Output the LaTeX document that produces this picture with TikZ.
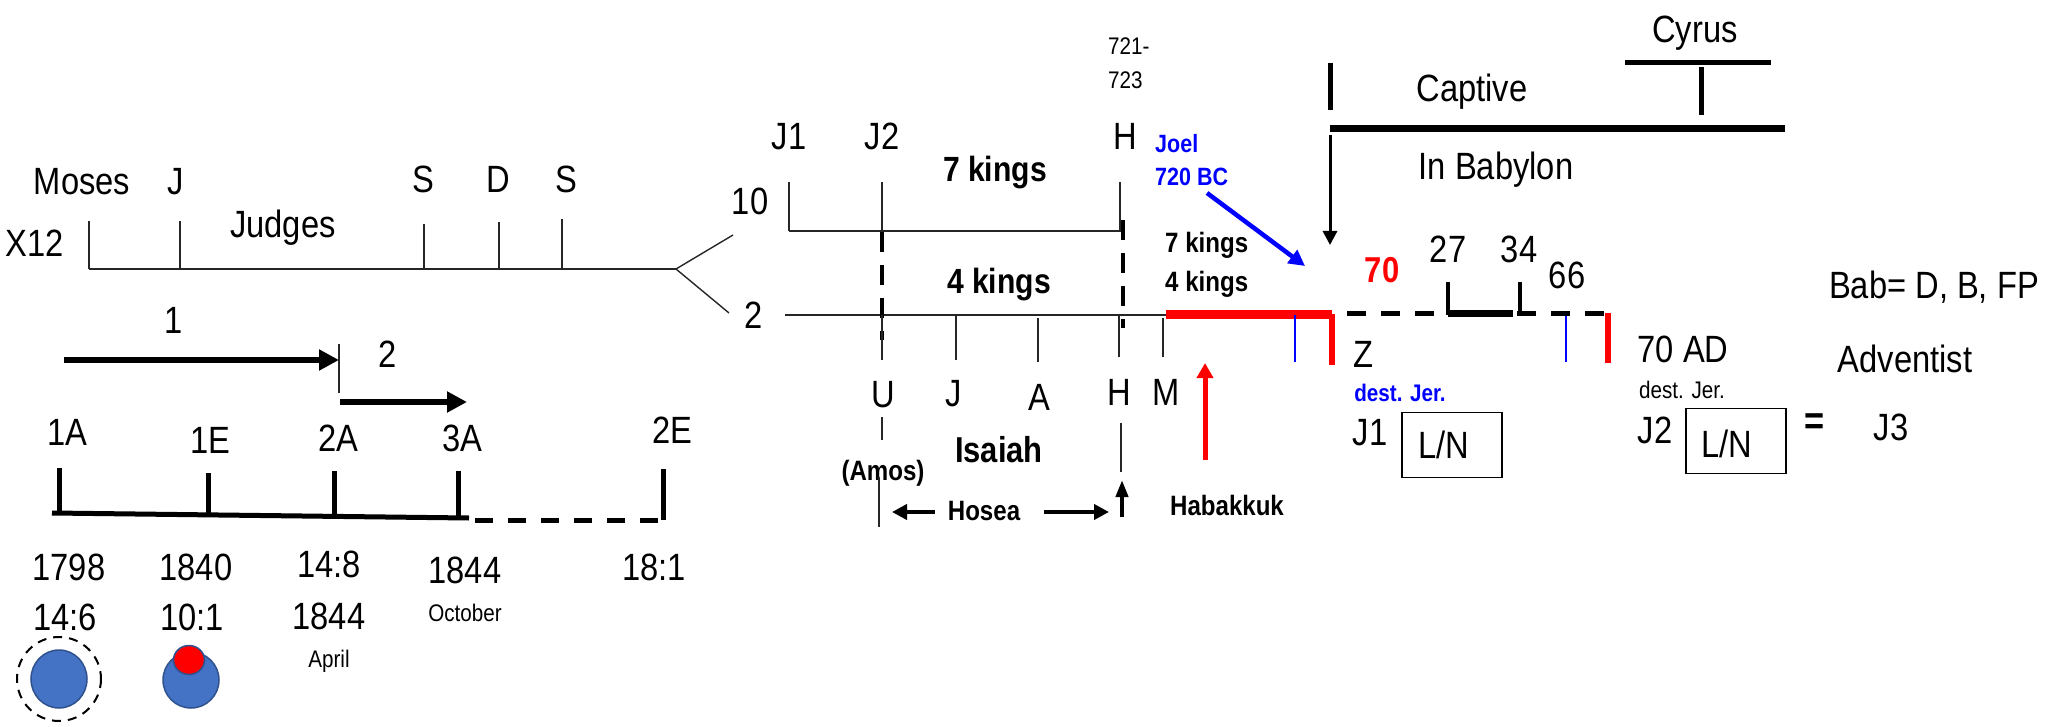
\documentclass[tikz,border=0pt]{standalone}
\usepackage{fontspec}
\setmainfont{Liberation Sans}[FakeStretch=0.86]
\usetikzlibrary{arrows.meta}
\definecolor{discblue}{HTML}{4472C4}
\definecolor{discedge}{HTML}{2F528F}

\begin{document}
\begin{tikzpicture}[x=1pt, y=-1pt]
    \tikzstyle{every node}=[inner sep=0pt, anchor=base, font=\fontsize{38}{40}\selectfont]
    \tikzstyle{smalltxt}=[font=\fontsize{24}{26}\selectfont]
    \tikzstyle{heavytxt}=[font=\bfseries\fontsize{28}{30}\selectfont]
    \tikzstyle{bigheavy}=[font=\bfseries\fontsize{36}{38}\selectfont]
    \tikzstyle{hairline}=[line width=1.4pt, draw=black!85]
    \tikzstyle{barline}=[line width=5pt]
    \tikzstyle{fatarrow}=[line width=6pt, -{Triangle[length=20pt,width=20pt]}]
    \tikzstyle{midarrow}=[line width=4pt, -{Triangle[length=15pt,width=15pt]}]
    \useasboundingbox (0,0) rectangle (2049,727);

% Upper left timeline: Moses, Judges, the kings and the fork
    \node (moses) at (82,195) {Moses};
    \node (judge) at (176,195) {J};
    \node (saul) at (423,193) {S};
    \node (david) at (498,193) {D};
    \node (solomon) at (566,193) {S};
    \node (x12) at (35,257) {X12};
    \node (judges) at (283,237) {Judges};
    \coordinate (start) at (89,269);
    \coordinate (fork) at (676,269);
    \coordinate (tenend) at (733,235);
    \coordinate (twoend) at (729,313);
    \draw[hairline] (start) -- (fork);
    \draw[hairline] (fork) -- (tenend);
    \draw[hairline] (fork) -- (twoend);
    \foreach \x/\t in {89/221, 180/221, 424/224, 499/222, 562/219}
        \draw[hairline] (\x,\t) -- (\x,269);

% The two messages
    \node (one) at (174,333) {1};
    \node (two) at (388,367) {2};
    \coordinate (onestart) at (64,360);
    \coordinate (oneend) at (339,360);
    \coordinate (twostart) at (340,402);
    \coordinate (twoend2) at (467,402);
    \draw[fatarrow] (onestart) -- (oneend);
    \draw[fatarrow] (twostart) -- (twoend2);
    \draw[hairline] (339,344) -- (339,393);

% Lower left timeline: 1798 to 18:1
    \node (a1) at (67,445) {1A};
    \node (e1) at (210,453) {1E};
    \node (a2) at (338,451) {2A};
    \node (a3) at (462,451) {3A};
    \node (e2) at (672,443) {2E};
    \coordinate (tlstart) at (52,513);
    \coordinate (tlmid) at (469,518);
    \coordinate (tlend) at (670,520);
    \draw[barline] (tlstart) -- (tlmid);
    \draw[barline, dash pattern=on 18pt off 15pt] (tlmid) ++(6,2) -- (tlend);
    \foreach \x/\t/\b in {59/468/513, 208/473/515, 334/471/516, 458/471/520, 663/469/520}
        \draw[barline] (\x,\t) -- (\x,\b);
    \node (y1798) at (69,580) {1798};
    \node (v146) at (65,630) {14:6};
    \node (y1840) at (196,580) {1840};
    \node (v101) at (192,630) {10:1};
    \node (v148) at (329,577) {14:8};
    \node (y1844a) at (329,629) {1844};
    \node[smalltxt] (april) at (329,667) {April};
    \node (y1844o) at (465,583) {1844};
    \node[smalltxt] (october) at (465,621) {October};
    \node (v181) at (654,580) {18:1};
    \draw[line width=2pt, dash pattern=on 9pt off 7pt] (59,679) circle [radius=42];
    \filldraw[fill=discblue, draw=discedge, line width=1.5pt] (59,679) ellipse [x radius=28, y radius=29];
    \filldraw[fill=discblue, draw=discedge, line width=1.5pt] (191,680) ellipse [x radius=28, y radius=28];
    \filldraw[fill=red, draw=discedge, line width=1.5pt] (189,660) ellipse [x radius=15.5, y radius=14.5];

% Divided kingdom: ten tribes above, two tribes below
    \node[smalltxt, anchor=base west] (yr721) at (1108,55) {721-};
    \node[smalltxt, anchor=base west] (yr723) at (1108,89) {723};
    \node (jone) at (789,150) {J1};
    \node (jtwo) at (882,150) {J2};
    \node (hup) at (1125,150) {H};
    \node[font=\bfseries\fontsize{35}{37}\selectfont] (sevenk) at (995,182) {7 kings};
    \node[font=\bfseries\fontsize{35}{37}\selectfont] (fourk) at (999,293) {4 kings};
    \node (ten) at (750,215) {10};
    \node (twotribes) at (754,328) {2};
    \coordinate (upstart) at (789,231);
    \coordinate (upend) at (1121,231);
    \coordinate (lowstart) at (785,315);
    \coordinate (lowend) at (1166,315);
    \draw[hairline] (upstart) -- (upend);
    \draw[hairline] (lowstart) -- (lowend);
    \foreach \x in {789, 882, 1120}
        \draw[hairline] (\x,182) -- (\x,231);
    \draw[line width=4pt, dash pattern=on 20pt off 13pt] (882,232) -- (882,340);
    \draw[line width=4pt, dash pattern=on 20pt off 13pt] (1123,220) -- (1123,328);
    \foreach \x/\t/\b in {882/315/360, 956/315/360, 1038/318/362, 1119/315/357, 1163/318/357}
        \draw[hairline] (\x,\t) -- (\x,\b);

% Prophets of the southern kingdom
    \node (uzziah) at (883,407) {U};
    \node (jotham) at (954,406) {J};
    \node (ahaz) at (1039,410) {A};
    \node (hezekiah) at (1119,405) {H};
    \node (manasseh) at (1166,405) {M};
    \draw[hairline] (882,417) -- (882,440);
    \node[heavytxt] (amos) at (883,480) {(Amos)};
    \draw[hairline] (879,477) -- (879,527);
    \node[bigheavy] (isaiah) at (999,462) {Isaiah};
    \draw[hairline] (1121,423) -- (1121,472);
    \node[heavytxt] (hosea) at (984,520) {Hosea};
    \coordinate (hoseaup) at (1122,517);
    \coordinate (hoseaL) at (935,512);
    \coordinate (hoseaLtip) at (892,512);
    \coordinate (hoseaR) at (1044,512);
    \coordinate (hoseaRtip) at (1109,512);
    \draw[midarrow, -{Triangle[length=17pt,width=12pt]}] (hoseaup) -- ++(0,-37);
    \draw[midarrow] (hoseaL) -- (hoseaLtip);
    \draw[midarrow] (hoseaR) -- (hoseaRtip);
    \node[heavytxt] (habakkuk) at (1227,515) {Habakkuk};
    \draw[line width=5pt, red, -{Triangle[length=15pt,width=16pt]}] (1205,460) -- (1205,363);

% Joel and the captivity in Babylon
    \node[font=\bfseries\fontsize{25}{27}\selectfont, text=blue, anchor=base west] (joel) at (1155,153) {Joel};
    \node[font=\bfseries\fontsize{25}{27}\selectfont, text=blue, anchor=base west] (bc720) at (1155,186) {720 BC};
    \node[heavytxt, anchor=base west] (sevenk2) at (1165,253) {7 kings};
    \node[heavytxt, anchor=base west] (fourk2) at (1165,291) {4 kings};
    \coordinate (joeltip) at (1305,266);
    \draw[line width=4.5pt, blue, -{Triangle[length=16pt,width=16pt]}] (1207,193) -- (joeltip);
    \coordinate (capstart) at (1330,129);
    \coordinate (capend) at (1785,129);
    \draw[line width=7pt] (capstart) -- (capend);
    \draw[barline] (1330,63) -- (1330,110);
    \draw[line width=3pt, -{Triangle[length=14pt,width=14pt]}] (1330,135) -- (1330,245);
    \node (cyrus) at (1695,43) {Cyrus};
    \draw[barline] (1625,63) -- (1771,63);
    \draw[barline] (1701,67) -- (1701,115);
    \node (captive) at (1472,102) {Captive};
    \node (babylon) at (1496,180) {In Babylon};

% Seventy years and seventy weeks
    \draw[line width=9pt, red] (1166,314) -- (1332,314);
    \draw[line width=6pt, red] (1332,314) -- (1332,365);
    \draw[line width=6pt, red] (1608,313) -- (1608,363);
    \draw[line width=2.5pt, blue] (1295,315) -- (1295,362);
    \draw[line width=2.5pt, blue] (1566,313) -- (1566,362);
    \draw[barline, dash pattern=on 19pt off 15pt] (1347,313) -- (1606,313);
    \draw[line width=7pt] (1448,313) -- (1513,313);
    \draw[line width=4pt] (1448,282) -- (1448,315);
    \draw[line width=4pt] (1520,282) -- (1520,315);
    \node[bigheavy, text=red] (seventy) at (1382,283) {70};
    \node (w27) at (1448,262) {27};
    \node (w34) at (1519,262) {34};
    \node (w66) at (1567,288) {66};
    \node (zed) at (1363,367) {Z};
    \node[font=\bfseries\fontsize{24}{26}\selectfont, text=blue] (destone) at (1400,401) {dest. Jer.};
    \node (jonelow) at (1370,445) {J1};
    \node[draw, line width=1.5pt, minimum width=100pt, minimum height=65pt, anchor=center] (lnone) at (1452,445) {};
    \node (lnonetxt) at (1444,458) {L/N};
    \node (ad70) at (1683,362) {70 AD};
    \node[smalltxt] (desttwo) at (1682,398) {dest. Jer.};
    \node (jtwolow) at (1655,443) {J2};
    \node[draw, line width=1.5pt, minimum width=100pt, minimum height=65pt, anchor=center] (lntwo) at (1736,441) {};
    \node (lntwotxt) at (1727,457) {L/N};
    \node[font=\bfseries\fontsize{40}{42}\selectfont, anchor=center] (equals) at (1815,424) {=};
    \node (jthree) at (1891,440) {J3};
    \node (adventist) at (1905,372) {Adventist};
    \node (bab) at (1934,298) {Bab= D, B, FP};

\end{tikzpicture}
\end{document}
